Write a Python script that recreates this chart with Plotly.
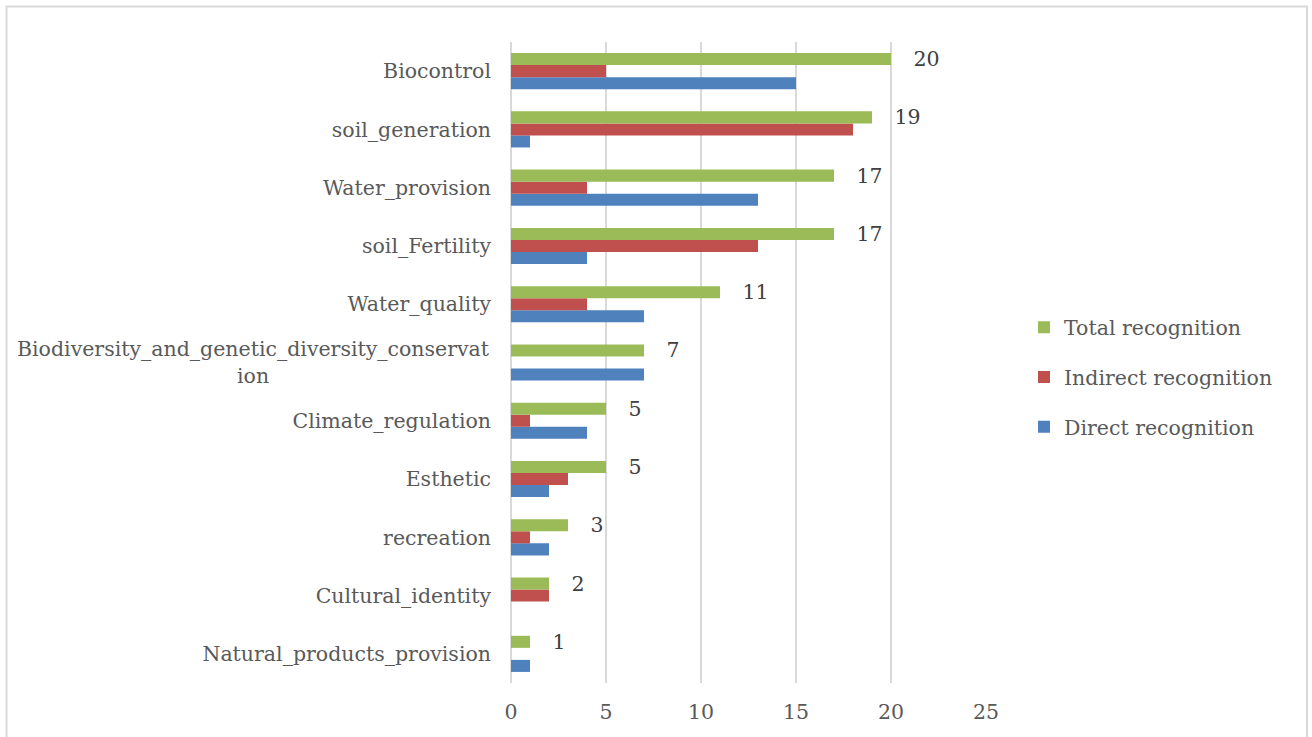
import plotly.graph_objects as go

# Ecosystem services, listed bottom-to-top as they appear on the axis
services = [
    "Natural_products_provision",
    "Cultural_identity",
    "recreation",
    "Esthetic",
    "Climate_regulation",
    "Biodiversity_and_genetic_diversity_conservation",
    "Water_quality",
    "soil_Fertility",
    "Water_provision",
    "soil_generation",
    "Biocontrol",
]
direct = [1, 0, 2, 2, 4, 7, 7, 4, 13, 1, 15]
indirect = [0, 2, 1, 3, 1, 0, 4, 13, 4, 18, 5]
total = [1, 2, 3, 5, 5, 7, 11, 17, 17, 19, 20]

x_ticks = [0, 5, 10, 15, 20, 25]

FONT = "DejaVu Serif"
TEXT = "#595959"
GRID = "#D9D9D9"
FS = 20.5

# long label drawn separately so its wrapped line can be centred
long_label = "Biodiversity_and_genetic_diversity_conservation"
tick_text = ["" if s == long_label else s for s in services]

fig = go.Figure()
fig.add_trace(go.Bar(
    y=services, x=direct, orientation="h", name="Direct recognition",
    marker=dict(color="#4F81BD", line=dict(width=0)), legendgroup="d",
    legendrank=3,
))
fig.add_trace(go.Bar(
    y=services, x=indirect, orientation="h", name="Indirect recognition",
    marker=dict(color="#C0504D", line=dict(width=0)), legendgroup="i",
    legendrank=2,
))
fig.add_trace(go.Bar(
    y=services, x=total, orientation="h", name="Total recognition",
    marker=dict(color="#9BBB59", line=dict(width=0)), legendgroup="t",
    legendrank=1,
    text=[str(v) for v in total],
    texttemplate="\u00a0\u00a0\u00a0%{text}",
    textposition="outside", constraintext="none", cliponaxis=False,
    textfont=dict(family=FONT, size=FS, color="#404040"),
))

fig.add_annotation(
    x=0, xref="paper", y=long_label, yref="y",
    text="Biodiversity_and_genetic_diversity_conservat<br>ion",
    showarrow=False, xanchor="right", yanchor="middle", align="center",
    xshift=-19, font=dict(family=FONT, size=FS, color=TEXT),
)

# light frame around the whole chart
L, T, W, H = 511, 42, 475, 641
def px(x):
    return (x - L) / W
def py(y):
    return (T + H - y) / H
fig.add_shape(
    type="rect", xref="paper", yref="paper",
    x0=px(6.5), x1=px(1307), y0=py(760), y1=py(6.5),
    line=dict(color=GRID, width=2), fillcolor="rgba(0,0,0,0)", layer="below",
)

fig.update_layout(
    width=1312, height=737,
    margin=dict(l=L, r=1312 - L - W, t=T, b=737 - T - H, pad=0),
    paper_bgcolor="white", plot_bgcolor="white",
    barmode="group", bargap=0.38, bargroupgap=0,
    font=dict(family=FONT, size=FS, color=TEXT),
    showlegend=True,
    legend=dict(
        traceorder="grouped", x=px(1024), xanchor="left",
        y=py(377), yanchor="middle", tracegroupgap=20,
        font=dict(family=FONT, size=FS, color=TEXT),
        bgcolor="rgba(0,0,0,0)",
    ),
    xaxis=dict(
        range=[0, 25], tickvals=x_ticks, showgrid=True, gridcolor=GRID,
        gridwidth=1.5, zeroline=True, zerolinecolor=GRID, zerolinewidth=1.5,
        showline=False, ticks="", ticklabelstandoff=14,
        tickfont=dict(family=FONT, size=FS, color=TEXT), fixedrange=True,
    ),
    yaxis=dict(
        type="category", categoryorder="array", categoryarray=services,
        tickvals=services, ticktext=tick_text,
        showgrid=False, zeroline=False, showline=False, ticks="",
        ticklabelstandoff=19,
        tickfont=dict(family=FONT, size=FS, color=TEXT), fixedrange=True,
    ),
)

fig.write_html("out.html")
